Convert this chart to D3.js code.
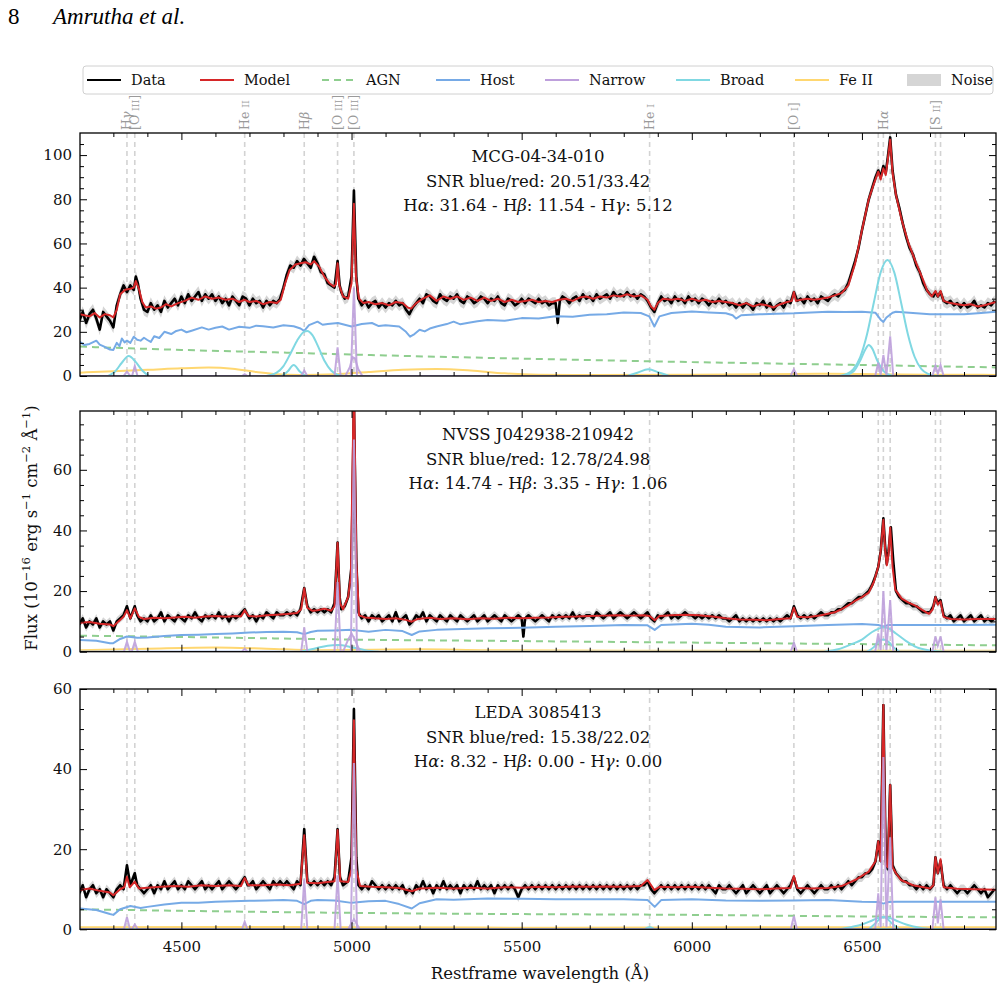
<!DOCTYPE html>
<html>
<head>
<meta charset="utf-8">
<script src="https://cdn.jsdelivr.net/npm/d3@7"></script>
<style>
  body { margin: 0; background: #ffffff; }
  svg { font-family: "DejaVu Serif", serif; }
</style>
</head>
<body>
<div class="svg-container"></div>
<script>
/* DATA (wavelength in Angstrom, flux in 1e-16 erg/s/cm2/A) */
var panelNames = ["MCG-04-34-010", "NVSS J042938-210942", "LEDA 3085413"];
var panelSnr = ["20.51/33.42", "12.78/24.98", "15.38/22.02"];
var balmerValues = [["31.64", "11.54", "5.12"], ["14.74", "3.35", "1.06"], ["8.32", "0.00", "0.00"]];

var lineWaves = [4340, 4363, 4686, 4861, 4959, 5007, 5876, 6300, 6548, 6563, 6583, 6716, 6731];
var labelWaves = [4340, 4363, 4686, 4861, 4959, 5007, 5876, 6300, 6563, 6716];
var labelNames = ["Hγ", "[O III]", "He II", "Hβ", "[O III]", "[O III]", "He I", "[O I]", "Hα", "[S II]"];

var xMajor = [4500, 5000, 5500, 6000, 6500];
var yMajor = [[0, 20, 40, 60, 80, 100], [0, 20, 40, 60], [0, 20, 40, 60]];

var legendNames = ["Data", "Model", "AGN", "Host", "Narrow", "Broad", "Fe II", "Noise"];

// Panel 1 : MCG-04-34-010
var data1 = [
[4200,25],[4210,29],[4220,24],[4230,28],[4240,30],[4250,26],[4260,21],[4270,29],[4280,27],[4290,25],
[4300,22],[4310,32],[4320,37],[4330,41],[4340,38],[4350,41],[4360,39],[4366,45],[4372,42],[4380,35],[4390,30],
[4400,29],[4410,33],[4420,30],[4430,32],[4440,29],[4450,34],[4460,31],[4470,33],[4480,35],[4490,32],
[4500,36],[4510,33],[4520,37],[4530,34],[4540,36],[4550,38],[4560,34],[4570,37],[4580,35],[4590,37],
[4600,34],[4610,36],[4620,33],[4630,35],[4640,32],[4650,36],[4660,34],[4670,32],[4680,36],[4690,35],
[4700,32],[4710,35],[4720,33],[4730,34],[4740,31],[4750,34],[4760,32],[4770,34],[4780,33],[4790,35],
[4800,40],[4810,46],[4820,50],[4830,49],[4840,52],[4850,50],[4860,53],[4870,51],[4880,49],[4890,54],
[4900,51],[4910,47],[4920,46],[4930,42],[4940,41],[4950,40],[4959,52],[4965,41],[4970,38],[4980,35],[4990,36],
[5000,45],[5007,84],[5014,45],[5020,35],[5030,32],[5040,34],[5050,31],[5060,33],[5070,34],[5080,31],[5090,33],
[5100,31],[5110,33],[5120,32],[5130,34],[5140,32],[5150,33],[5160,30],[5170,28],[5180,31],[5190,33],
[5200,35],[5210,33],[5220,37],[5230,36],[5240,34],[5250,33],[5260,37],[5270,35],[5280,34],[5290,36],
[5300,35],[5310,37],[5320,34],[5330,33],[5340,36],[5350,35],[5360,33],[5370,34],[5380,36],[5390,35],
[5400,33],[5410,35],[5420,34],[5430,36],[5440,33],[5450,32],[5460,35],[5470,34],[5480,32],[5490,33],
[5500,35],[5510,33],[5520,35],[5530,34],[5540,33],[5550,35],[5560,33],[5570,34],[5580,32],[5590,33],
[5600,33],[5606,24],[5612,34],[5620,36],[5630,35],[5640,33],[5650,35],[5660,36],[5670,34],[5680,37],[5690,35],
[5700,36],[5710,34],[5720,37],[5730,35],[5740,36],[5750,37],[5760,35],[5770,38],[5780,36],[5790,37],
[5800,36],[5810,38],[5820,36],[5830,37],[5840,35],[5850,37],[5860,36],[5870,34],[5880,31],[5890,29],
[5900,33],[5910,36],[5920,34],[5930,35],[5940,33],[5950,36],[5960,34],[5970,35],[5980,33],[5990,36],
[6000,34],[6010,35],[6020,33],[6030,35],[6040,34],[6050,32],[6060,34],[6070,33],[6080,35],[6090,33],
[6100,34],[6110,32],[6120,33],[6130,31],[6140,33],[6150,31],[6160,33],[6170,32],[6180,30],[6190,33],
[6200,32],[6210,34],[6220,31],[6230,33],[6240,30],[6250,32],[6260,33],[6270,31],[6280,34],[6290,33],
[6300,38],[6310,34],[6320,35],[6330,33],[6340,36],[6350,34],[6360,35],[6370,33],[6380,36],[6390,35],
[6400,34],[6410,36],[6420,37],[6430,36],[6440,38],[6450,39],[6460,42],[6470,47],[6480,52],[6490,58],
[6500,66],[6510,73],[6520,80],[6530,85],[6540,90],[6548,93],[6555,90],[6563,95],[6570,92],[6576,99],[6583,108],[6590,93],
[6600,82],[6610,76],[6620,69],[6630,63],[6640,58],[6650,55],[6660,50],[6670,47],[6680,42],[6690,39],
[6700,37],[6710,36],[6716,38],[6723,36],[6731,38],[6740,34],[6750,33],[6760,34],[6770,32],[6780,33],[6790,31],
[6800,33],[6810,31],[6820,32],[6830,34],[6840,31],[6850,32],[6860,31],[6870,33],[6880,32],[6890,34]
];
var model1 = [
[4200,28],[4215,27.5],[4230,27],[4245,28.5],[4260,26.5],[4275,28],[4290,27.5],[4300,26.5],[4310,30],[4320,37],
[4335,39],[4350,39.5],[4360,40],[4366,43],[4375,39.5],[4385,33.5],[4395,31],[4410,31.5],[4425,30.5],[4440,31],
[4455,32.5],[4470,31.5],[4490,33],[4510,34],[4530,35.5],[4550,34.5],[4570,36],[4590,35],[4610,35.5],[4630,34.5],
[4650,35],[4670,33.5],[4686,34.5],[4700,33.5],[4720,34],[4740,32.5],[4760,33.5],[4780,33],[4792,34.5],[4805,42],
[4818,48],[4835,50.5],[4850,51],[4865,51.5],[4880,50.5],[4890,52],[4905,49.5],[4920,45],[4935,42],[4948,40.5],
[4954,41.5],[4959,51],[4964,41],[4975,36],[4990,35],[5000,42],[5007,78],[5013,45],[5022,35],[5035,33],
[5050,33.5],[5070,32.5],[5090,33],[5110,32],[5130,33.5],[5150,33],[5165,31],[5175,30.5],[5190,33],[5210,35],
[5230,36.5],[5250,34],[5270,36],[5290,35],[5310,36],[5330,34.5],[5350,35.5],[5370,34],[5390,35.5],[5410,34],
[5430,35],[5450,33.5],[5470,34.5],[5490,33.5],[5510,34],[5530,34.5],[5550,33.5],[5570,34],[5590,33.5],[5610,34.5],
[5630,35],[5650,34],[5670,35.5],[5690,36],[5710,35],[5730,36],[5750,35.5],[5770,36.5],[5790,36],[5810,37],
[5830,36],[5850,36.5],[5870,34.5],[5880,31.5],[5890,30],[5900,33],[5915,35],[5940,34.5],[5960,35],[5980,34],
[6000,35],[6020,34],[6040,34.5],[6060,33.5],[6080,34],[6100,33.5],[6120,33],[6140,32],[6160,33],[6180,31.5],
[6200,32.5],[6220,32],[6240,31],[6260,32.5],[6280,33.5],[6294,34],[6300,38],[6306,34],[6320,34.5],[6340,35],
[6360,34.5],[6380,35],[6400,35.5],[6420,36.5],[6440,37.5],[6460,41],[6480,51],[6500,66],[6520,80],[6535,87],
[6548,92.5],[6555,89],[6563,94],[6570,91],[6576,98],[6583,107],[6590,92],[6600,82],[6617,70.5],[6637,60],
[6657,52],[6677,44.5],[6692,38.5],[6705,36],[6716,38.5],[6723,36],[6731,38.5],[6740,34],[6760,33],[6780,32.5],
[6800,32],[6820,32.5],[6840,31.5],[6860,32],[6894,33.5]
];
var host1 = [
[4200,15.6],[4215,14],[4230,14.5],[4250,16],[4260,14.2],[4270,13.5],[4290,12],[4300,11.8],[4310,15],[4318,13.5],
[4325,17],[4333,15.2],[4340,16],[4350,15],[4360,17.8],[4370,16.4],[4380,16],[4390,17.3],[4400,16.3],[4410,15.4],
[4420,18],[4435,17.2],[4450,20],[4470,19],[4485,20.4],[4500,21],[4515,19.8],[4530,20.5],[4560,22],[4580,21],
[4600,21.8],[4620,22.4],[4640,21],[4670,22.3],[4700,21.8],[4720,22.8],[4740,22.5],[4770,22],[4800,23],[4830,22.5],
[4850,21.5],[4861,20.4],[4875,23],[4900,24.6],[4915,23.2],[4930,23.5],[4960,24],[5000,22.4],[5030,23.5],[5060,24],
[5080,22.6],[5100,23],[5140,22.4],[5160,20],[5172,17.8],[5185,19],[5200,20.9],[5215,20.2],[5230,21.5],[5250,22.4],
[5280,23.5],[5300,24.6],[5320,23.4],[5340,24],[5370,24.8],[5400,25.4],[5450,25],[5500,26.2],[5550,26],[5600,27],
[5650,26.8],[5700,27.7],[5750,28],[5800,28.7],[5850,28.5],[5875,27],[5890,22.4],[5905,27],[5940,28.5],[6000,29.2],
[6050,28.8],[6100,28.4],[6120,27.5],[6130,26],[6145,27.5],[6200,27.9],[6250,28.2],[6300,28.4],[6350,28.8],[6400,29.1],
[6450,29],[6500,29.1],[6540,28.6],[6555,25.5],[6563,24.5],[6572,26.5],[6590,28.6],[6600,29.1],[6650,28.5],[6700,27.9],
[6750,28],[6800,27.9],[6850,28.5],[6894,29.1]
];
var agn1 = [[4202,13.3],[4500,11.8],[4800,10.6],[5100,9.3],[5400,8.2],[5700,7.2],[6000,6.3],[6300,5.5],[6600,4.7],[6894,3.9]];
var feii1 = [[4202,1.5],[4300,2.2],[4400,2.8],[4500,3.5],[4580,3.8],[4650,3.3],[4720,1.8],[4780,0.8],[4850,0.5],[4950,0.8],
[5050,1.8],[5150,2.8],[5250,3.2],[5350,2.5],[5450,1.2],[5550,0.6],[5700,0.4],[6000,0.6],[6200,0.8],[6400,1.0],
[6550,0.8],[6700,0.6],[6894,0.5]];
var narrow1 = [
[4202,0],[4330,0],[4340,2],[4350,0],[4355,0],[4363,4.5],[4371,0],[4678,0],[4686,0.8],[4694,0],
[4852,0],[4861,2.5],[4870,0],[4950,0],[4959,13],[4968,0],[4998,0],[5007,40],[5016,0],[6290,0],
[6300,3],[6310,0],[6539,0],[6548,6],[6555,0.5],[6563,9.5],[6572,0.5],[6583,18],[6592,0],[6707,0],
[6716,4.7],[6723,1],[6731,5],[6740,0],[6894,0]
];
var outflow1 = [[4982,0],[4995,4],[5003,8.5],[5010,8],[5020,3],[5032,0]];
var broad1 = [
[[4202,0],[6894,0]],
[[4285,0],[4305,2],[4325,6],[4345,9],[4365,6.5],[4385,2.5],[4405,0]],
[[4750,0],[4780,1.5],[4800,4.5],[4820,10],[4840,16],[4860,20],[4870,20.4],[4885,18.5],[4900,14],[4920,7],[4940,2.5],[4960,0.5],[4980,0]],
[[4795,0],[4812,2],[4830,5],[4848,2],[4865,0]],
[[5810,0],[5840,1.5],[5872,3],[5905,1.5],[5935,0]],
[[6435,0],[6455,0.9],[6475,3.1],[6495,8.6],[6515,18.9],[6535,33.3],[6555,46.9],[6575,52.5],[6595,46.9],[6615,33.3],[6635,18.9],[6655,8.6],[6675,3.1],[6695,0.9],[6715,0]],
[[6445,0],[6475,2],[6495,7],[6510,12],[6520,14],[6530,12.5],[6545,7],[6565,2],[6590,0]]
];

// Panel 2 : NVSS J042938-210942
var data2 = [
[4200,9],[4210,11],[4220,8],[4230,10],[4240,9],[4250,11],[4260,8],[4270,10],[4280,9],[4290,10],
[4300,7],[4310,10],[4320,11],[4330,12],[4340,15],[4350,11],[4363,15],[4370,12],[4380,10],[4390,11],
[4400,10],[4410,12],[4420,10],[4430,11],[4440,13],[4450,10],[4460,12],[4470,11],[4480,10],[4490,12],
[4500,11],[4510,10],[4520,12],[4530,11],[4540,13],[4550,11],[4560,10],[4570,12],[4580,11],[4590,12],
[4600,11],[4610,13],[4620,11],[4630,12],[4640,10],[4650,12],[4660,11],[4670,12],[4686,14],[4695,12],
[4700,11],[4710,12],[4720,10],[4730,12],[4740,11],[4750,13],[4760,12],[4770,11],[4780,13],[4790,12],
[4800,12],[4810,13],[4820,12],[4830,13],[4840,12],[4850,14],[4861,21],[4870,15],[4880,13],[4890,14],
[4900,13],[4910,14],[4920,13],[4930,14],[4940,13],[4950,16],[4959,36],[4965,18],[4970,14],[4980,15],[4990,18],
[5000,28],[5007,82],[5014,30],[5020,13],[5030,11],[5040,12],[5050,10],[5060,12],[5070,11],[5080,12],[5090,10],
[5100,11],[5110,12],[5120,10],[5130,13],[5140,10],[5150,11],[5160,12],[5170,9],[5180,10],[5190,12],
[5200,11],[5210,13],[5220,10],[5230,12],[5240,11],[5250,10],[5260,12],[5270,11],[5280,10],[5290,12],
[5300,11],[5310,10],[5320,12],[5330,11],[5340,10],[5350,11],[5360,12],[5370,10],[5380,11],[5390,12],
[5400,10],[5410,11],[5420,12],[5430,11],[5440,10],[5450,12],[5460,11],[5470,10],[5480,11],[5490,12],
[5500,11],[5505,5],[5510,11],[5520,12],[5530,11],[5540,10],[5550,11],[5560,12],[5570,11],[5580,10],[5590,12],
[5600,11],[5610,12],[5620,11],[5630,12],[5640,11],[5650,13],[5660,11],[5670,12],[5680,11],[5690,12],
[5700,12],[5710,11],[5720,13],[5730,12],[5740,11],[5750,12],[5760,13],[5770,11],[5780,12],[5790,13],
[5800,12],[5810,11],[5820,12],[5830,13],[5840,12],[5850,11],[5860,12],[5870,13],[5880,11],[5890,10],
[5900,12],[5910,11],[5920,12],[5930,13],[5940,11],[5950,12],[5960,11],[5970,12],[5980,13],[5990,12],
[6000,12],[6010,11],[6020,12],[6030,11],[6040,12],[6050,11],[6060,12],[6070,11],[6080,12],[6090,11],
[6100,11],[6110,10],[6120,11],[6130,12],[6140,10],[6150,11],[6160,10],[6170,11],[6180,10],[6190,11],
[6200,10],[6210,11],[6220,10],[6230,11],[6240,10],[6250,11],[6260,10],[6270,11],[6280,12],[6290,11],
[6300,15],[6310,12],[6320,11],[6330,12],[6340,11],[6350,12],[6360,11],[6370,12],[6380,13],[6390,12],
[6400,12],[6410,13],[6420,13],[6430,14],[6440,14],[6450,15],[6460,16],[6470,16],[6480,17],[6490,18],
[6500,18],[6510,19],[6520,20],[6530,22],[6540,25],[6548,28],[6555,33],[6563,44],[6568,35],[6573,29],[6578,33],[6585,41],[6592,30],
[6600,20],[6610,18],[6620,17],[6630,16],[6640,16],[6650,15],[6660,15],[6670,14],[6680,13],[6690,13],
[6700,13],[6710,15],[6716,18],[6723,16],[6731,17],[6740,12],[6750,11],[6760,12],[6770,10],[6780,11],[6790,12],
[6800,10],[6810,11],[6820,12],[6830,10],[6840,11],[6850,12],[6860,10],[6870,11],[6880,10],[6890,11]
];
var model2 = [
[4200,9.5],[4230,9.8],[4260,9.2],[4290,9],[4300,8.4],[4315,10],[4330,11.5],[4340,13.7],[4350,11],[4363,14.3],
[4375,11.5],[4390,10.8],[4420,11.2],[4450,11],[4480,11.3],[4510,11.5],[4540,11.2],[4570,11.6],[4600,11.8],[4630,11.5],
[4660,11.8],[4675,11.6],[4686,13.7],[4697,11.8],[4720,11.6],[4750,12],[4780,12.2],[4810,12.4],[4840,12.8],[4852,14],
[4861,20.9],[4870,14.5],[4885,13.5],[4900,13.7],[4920,14.2],[4940,13.5],[4950,15],[4959,35.9],[4966,16],[4975,14],
[4990,18],[4998,25],[5007,90],[5014,30],[5022,12],[5040,11.3],[5070,11],[5100,10.8],[5130,11],[5160,10.5],
[5177,9.9],[5195,10.8],[5230,11.2],[5260,10.8],[5300,11],[5340,10.7],[5380,11],[5420,10.9],[5460,11.2],[5500,11],
[5540,11.2],[5580,11.3],[5620,11.5],[5660,11.6],[5700,11.8],[5740,11.9],[5780,12],[5820,11.9],[5860,12],[5876,11.8],
[5891,10.4],[5905,11.8],[5940,12],[5980,12.2],[6020,12],[6060,11.6],[6100,11],[6140,10.6],[6180,10.5],[6220,10.4],
[6260,10.8],[6290,11],[6300,14.5],[6310,11.5],[6340,11.4],[6380,12],[6420,13],[6440,14],[6460,15.3],[6480,16.8],
[6500,18],[6520,19.5],[6535,23],[6548,28],[6555,33],[6563,43.5],[6568,34],[6573,28.5],[6578,32],[6583,41],
[6590,28],[6598,20.5],[6617,17.5],[6637,16.2],[6657,15.2],[6677,13.8],[6697,12.5],[6708,14],[6716,18],[6723,15.5],
[6731,16.6],[6740,11.5],[6760,10.8],[6800,10.6],[6840,10.8],[6894,10.8]
];
var host2 = [
[4200,3.9],[4250,3.6],[4290,2.8],[4300,2.8],[4320,4.2],[4340,5],[4370,4.6],[4400,4.7],[4450,5.2],[4500,5.5],
[4550,5.6],[4600,5.8],[4650,6],[4700,6.3],[4750,6.5],[4800,6.6],[4840,6.4],[4861,5.8],[4880,6.5],[4900,6.9],
[4950,7],[5000,7.2],[5050,6.6],[5100,7.2],[5150,6.8],[5177,5.5],[5200,6.7],[5250,7.2],[5300,7.4],[5400,7.7],
[5500,7.9],[5600,8.2],[5700,8.5],[5800,8.8],[5870,8.7],[5891,7.2],[5910,8.8],[6000,9.2],[6050,8.9],[6100,8.2],
[6200,8],[6300,8.4],[6400,8.8],[6500,9.1],[6548,8.8],[6563,8.3],[6578,8.8],[6600,8.8],[6700,8.8],[6800,8.8],[6894,8.9]
];
var agn2 = [[4202,5.3],[4600,4.7],[5000,4.0],[5500,3.5],[6000,3.0],[6500,2.5],[6894,2.1]];
var feii2 = [[4202,0.5],[4400,1],[4600,1.4],[4750,1],[4900,0.5],[5200,0.8],[5400,0.5],[6000,0.3],[6894,0.3]];
var narrow2 = [
[4202,0],[4331,0],[4340,3.3],[4349,0],[4354,0],[4363,3.3],[4372,0],[4678,0],[4686,1],[4694,0],
[4852,0],[4861,8],[4870,0],[4950,0],[4959,23],[4968,0],[4998,0],[5007,70],[5016,0],[6291,0],
[6300,2.9],[6309,0],[6539,0],[6548,6],[6555,0.5],[6563,20],[6572,0.5],[6583,17],[6592,0],[6707,0],
[6716,5],[6723,2],[6731,5],[6740,0],[6894,0]
];
var outflow2 = [[4975,0],[4990,4],[5000,6],[5010,4],[5025,0]];
var broad2 = [
[[4202,0],[6894,0]],
[[4850,0],[4890,1],[4930,2],[4960,2.2],[5000,1.5],[5040,0.5],[5080,0]],
[[6390,0],[6430,0.8],[6470,2.5],[6500,4],[6530,6.5],[6550,7.6],[6563,8.1],[6580,7.6],[6600,6],[6630,3.5],[6660,1.5],[6700,0.4],[6740,0]],
[[6515,0],[6535,1.5],[6550,3.5],[6563,4],[6578,3.3],[6595,1.2],[6610,0]]
];

// Panel 3 : LEDA 3085413
var data3 = [
[4200,9],[4210,11],[4220,8],[4230,10],[4240,11],[4250,9],[4260,10],[4270,8],[4280,10],[4290,9],
[4300,8],[4310,10],[4320,11],[4330,10],[4340,16],[4350,11],[4363,14],[4370,11],[4380,10],[4390,9],
[4400,10],[4410,11],[4420,9],[4430,11],[4440,10],[4450,12],[4460,10],[4470,11],[4480,12],[4490,10],
[4500,11],[4510,10],[4520,12],[4530,11],[4540,10],[4550,11],[4560,12],[4570,10],[4580,11],[4590,10],
[4600,11],[4610,12],[4620,10],[4630,11],[4640,12],[4650,11],[4660,10],[4670,11],[4686,13],[4695,11],
[4700,11],[4710,12],[4720,10],[4730,11],[4740,12],[4750,11],[4760,10],[4770,12],[4780,11],[4790,12],
[4800,11],[4810,12],[4820,11],[4830,10],[4840,12],[4850,11],[4861,25],[4870,12],[4880,11],[4890,12],
[4900,11],[4910,12],[4920,11],[4930,12],[4940,11],[4950,13],[4959,25],[4966,13],[4975,11],[4990,12],
[5000,18],[5007,55],[5014,18],[5020,11],[5030,10],[5040,11],[5050,10],[5060,12],[5070,11],[5080,10],[5090,11],
[5100,10],[5110,11],[5120,10],[5130,11],[5140,10],[5150,11],[5160,9],[5170,10],[5180,9],[5190,11],
[5200,10],[5210,12],[5220,10],[5230,11],[5240,9],[5250,11],[5260,10],[5270,12],[5280,10],[5290,11],
[5300,10],[5310,11],[5320,9],[5330,11],[5340,10],[5350,11],[5360,10],[5370,12],[5380,10],[5390,11],
[5400,10],[5410,11],[5420,9],[5430,11],[5440,10],[5450,11],[5460,10],[5470,11],[5480,10],[5490,8],
[5500,10],[5510,11],[5520,10],[5530,11],[5540,10],[5550,11],[5560,10],[5570,11],[5580,10],[5590,11],
[5600,10],[5610,11],[5620,10],[5630,11],[5640,10],[5650,11],[5660,10],[5670,11],[5680,10],[5690,11],
[5700,10],[5710,11],[5720,10],[5730,11],[5740,10],[5750,11],[5760,10],[5770,11],[5780,10],[5790,11],
[5800,10],[5810,11],[5820,10],[5830,11],[5840,10],[5850,11],[5860,11],[5870,12],[5880,10],[5890,9],
[5900,10],[5910,11],[5920,10],[5930,11],[5940,10],[5950,11],[5960,10],[5970,11],[5980,10],[5990,11],
[6000,10],[6010,11],[6020,10],[6030,11],[6040,10],[6050,11],[6060,10],[6070,9],[6080,11],[6090,10],
[6100,10],[6110,11],[6120,10],[6130,9],[6140,10],[6150,11],[6160,9],[6170,10],[6180,11],[6190,10],
[6200,9],[6210,10],[6220,11],[6230,9],[6240,10],[6250,11],[6260,10],[6270,9],[6280,10],[6290,11],
[6300,13],[6310,10],[6320,9],[6330,10],[6340,11],[6350,10],[6360,9],[6370,10],[6380,11],[6390,10],
[6400,10],[6410,11],[6420,10],[6430,11],[6440,10],[6450,11],[6460,12],[6470,11],[6480,12],[6490,13],
[6500,13],[6510,14],[6520,14],[6530,15],[6540,17],[6548,22],[6555,17],[6563,56],[6570,17],[6576,15],[6583,36],[6590,16],
[6600,14],[6610,13],[6620,12],[6630,12],[6640,11],[6650,11],[6660,10],[6670,11],[6680,10],[6690,11],
[6700,10],[6710,11],[6716,18],[6723,14],[6731,17],[6740,11],[6750,10],[6760,11],[6770,10],[6780,9],[6790,10],
[6800,10],[6810,9],[6820,10],[6830,11],[6840,10],[6850,9],[6860,10],[6870,8],[6880,9],[6890,10]
];
var model3 = [
[4200,9.8],[4230,10.2],[4260,9.6],[4290,9.2],[4300,8.5],[4320,10],[4332,10.5],[4340,13.1],[4348,10.5],[4363,11.9],
[4375,10.2],[4400,10.4],[4440,10.6],[4480,10.8],[4520,10.6],[4560,11],[4600,10.8],[4640,11],[4675,10.8],[4686,12.8],
[4697,11],[4740,11],[4780,11.2],[4820,11],[4850,11.4],[4861,23.5],[4870,11.6],[4900,11.5],[4930,11.8],[4950,12],
[4959,24.8],[4967,12],[4990,11.8],[5000,15],[5007,52.2],[5014,15],[5025,10.8],[5060,10.6],[5100,10.5],[5140,10.3],
[5177,9.5],[5200,10.2],[5250,10.4],[5300,10.2],[5350,10.4],[5400,10.2],[5450,10.5],[5500,10.4],[5550,10.6],[5600,10.5],
[5650,10.7],[5700,10.6],[5750,10.7],[5800,10.6],[5850,10.8],[5870,12.3],[5890,9.8],[5905,10.6],[5950,10.5],[6000,10.6],
[6050,10.4],[6100,10.2],[6150,10.1],[6200,10],[6250,10.2],[6290,10.3],[6300,13.3],[6310,10.3],[6350,10.2],[6400,10.3],
[6440,10.8],[6480,12.3],[6520,14.4],[6540,17],[6548,22],[6555,17],[6563,56],[6570,16],[6576,15.5],[6583,36],
[6590,15.5],[6600,14],[6615,12.3],[6650,11],[6700,10.2],[6710,11],[6716,18],[6723,14],[6731,17.5],[6740,10.5],
[6780,10.1],[6830,10],[6894,9.9]
];
var host3 = [
[4200,5.2],[4250,4.8],[4290,3.8],[4300,3.6],[4320,5],[4350,5.8],[4380,5.3],[4400,5.6],[4450,6.2],[4500,6.6],
[4550,6.6],[4600,6.9],[4650,7],[4700,7.1],[4750,7.2],[4800,7.3],[4840,7.1],[4861,6.3],[4880,7.1],[4900,7.3],
[4950,7.2],[5000,6.6],[5050,7],[5100,7.1],[5140,6.3],[5177,5.2],[5200,6.5],[5250,7.5],[5300,7.4],[5400,7.7],
[5500,7.6],[5600,7.5],[5700,7.5],[5800,7.5],[5870,7.3],[5891,5.6],[5910,7.3],[6000,7.5],[6100,7.2],[6200,7.1],
[6300,7.2],[6400,7.3],[6500,6.9],[6548,6.8],[6563,6.4],[6578,6.8],[6600,6.9],[6700,6.9],[6800,6.9],[6894,6.9]
];
var agn3 = [[4202,5.0],[4600,4.5],[5000,4.1],[5500,3.8],[6000,3.6],[6500,3.2],[6894,3.0]];
var feii3 = [[4202,0.5],[4600,0.6],[5000,0.5],[5600,0.4],[6200,0.5],[6894,0.5]];
var narrow3 = [
[4202,0],[4331,0],[4340,3],[4349,0],[4354,0],[4363,1.2],[4372,0],[4678,0],[4686,1.9],[4694,0],
[4852,0],[4861,12.5],[4870,0],[4950,0],[4959,13.5],[4968,0],[4998,0],[5007,41.5],[5016,0],[6291,0],
[6300,3.3],[6309,0],[6539,0],[6548,9],[6555,0.5],[6563,43],[6572,0.5],[6583,23],[6592,0],[6707,0],
[6716,8],[6723,1.5],[6731,7.5],[6740,0],[6894,0]
];
var outflow3 = [[4990,0],[5000,1.5],[5007,2.5],[5014,1.5],[5024,0]];
var broad3 = [
[[4202,0],[6894,0]],
[[5860,0],[5876,0.6],[5892,0]],
[[6430,0],[6470,0.6],[6500,1.2],[6530,2.2],[6550,2.9],[6563,3.1],[6580,2.9],[6600,2.2],[6630,1.2],[6670,0.4],[6710,0]],
[[6520,0],[6540,1.5],[6555,2.8],[6563,3],[6572,2.8],[6590,1.3],[6610,0]]
];

/* PREPARATION */
var panels = [
  {data: data1, model: model1, host: host1, agn: agn1, feii: feii1, narrow: [narrow1, outflow1], broad: broad1},
  {data: data2, model: model2, host: host2, agn: agn2, feii: feii2, narrow: [narrow2, outflow2], broad: broad2},
  {data: data3, model: model3, host: host3, agn: agn3, feii: feii3, narrow: [narrow3, outflow3], broad: broad3}
];

var colors = {data: "#000000", model: "#d62728", agn: "#8fce8f", host: "#76aae6",
              narrow: "#bea0dc", broad: "#80d8e2", feii: "#ffd770", noise: "#d5d5d5"};

var plotLeft = 80, plotRight = 996;
var panelTop = [133, 411, 689];
var panelBottom = [376, 651.7, 929.3];
var yMax = [110, 79.4, 60];
var noiseLevel = [2.6, 1.4, 1.2];

// Append SVG
var svg = d3.select(".svg-container").append("svg")
  .attr("width", 1003)
  .attr("height", 993);

// Scale preparation
var xScale = d3.scaleLinear().domain([4202, 6894]).range([plotLeft, plotRight]);
var xMinor = d3.range(4300, 6894, 100).filter(function(v) { return v % 500 !== 0; });

// Header
svg.append("text").attr("x", 8).attr("y", 24)
  .style("font-family", "Liberation Serif").style("font-size", "23px").text("8");
svg.append("text").attr("x", 53).attr("y", 24)
  .style("font-family", "Liberation Serif").style("font-size", "23px")
  .style("font-style", "italic").text("Amrutha et al.");

// writes a label with italic greek letters and small roman numerals
function richText(sel, str, smallSize) {
  var parts = str.match(/[αβγ]|I+(?=\]?$)|[^αβγ]+?(?=[αβγ]|I+\]?$|$)|\]/g);
  parts.forEach(function(p) {
    var t = sel.append("tspan").text(p);
    if (/[αβγ]/.test(p)) t.style("font-style", "italic");
    else if (/^I+$/.test(p) && smallSize) t.style("font-size", smallSize);
  });
}

function drawPanel(i) {
  var p = panels[i];
  var top = panelTop[i], bottom = panelBottom[i];
  var yScale = d3.scaleLinear().domain([0, yMax[i]]).range([bottom, top]);
  var yMinor = d3.range(5, yMax[i], 5).filter(function(v) { return v % 20 !== 0; });

  var line = d3.line()
    .x(function(d) { return xScale(d[0]); })
    .y(function(d) { return yScale(d[1]); });
  var smooth = d3.line().curve(d3.curveMonotoneX)
    .x(function(d) { return xScale(d[0]); })
    .y(function(d) { return yScale(d[1]); });
  var band = d3.area()
    .x(function(d) { return xScale(d[0]); })
    .y0(function(d) { return yScale(d[1] - noiseLevel[i]); })
    .y1(function(d) { return yScale(d[1] + noiseLevel[i]); });

  svg.append("clipPath").attr("id", "clip" + i).append("rect")
    .attr("x", plotLeft).attr("y", top)
    .attr("width", plotRight - plotLeft).attr("height", bottom - top);

  var g = svg.append("g").attr("clip-path", "url(#clip" + i + ")");

  // line markers
  g.selectAll(".marker").data(lineWaves).enter().append("line")
    .attr("x1", function(d) { return xScale(d); })
    .attr("x2", function(d) { return xScale(d); })
    .attr("y1", top).attr("y2", bottom)
    .style("stroke", "#d3d3d3").style("stroke-width", 1.6)
    .style("stroke-dasharray", "5,4");

  // noise + data + model
  g.append("path").datum(p.data).attr("d", band)
    .style("fill", colors.noise).style("stroke", "none");
  g.append("path").datum(p.data).attr("d", line)
    .style("fill", "none").style("stroke", colors.data).style("stroke-width", 2.6)
    .style("stroke-linejoin", "round");
  g.append("path").datum(p.model).attr("d", line)
    .style("fill", "none").style("stroke", colors.model).style("stroke-width", 2)
    .style("stroke-linejoin", "round");

  // components
  g.append("path").datum(p.agn).attr("d", smooth)
    .style("fill", "none").style("stroke", colors.agn).style("stroke-width", 2)
    .style("stroke-dasharray", "7,5");
  g.append("path").datum(p.host).attr("d", line)
    .style("fill", "none").style("stroke", colors.host).style("stroke-width", 2)
    .style("stroke-linejoin", "round");
  g.append("path").datum(p.feii).attr("d", smooth)
    .style("fill", "none").style("stroke", colors.feii).style("stroke-width", 2);
  g.selectAll(".broad").data(p.broad).enter().append("path")
    .attr("d", smooth)
    .style("fill", "none").style("stroke", colors.broad).style("stroke-width", 2);
  g.selectAll(".narrow").data(p.narrow).enter().append("path")
    .attr("d", line)
    .style("fill", "none").style("stroke", colors.narrow).style("stroke-width", 2)
    .style("opacity", 0.9);

  // Axes drawing
  function styleAxis(a) {
    a.select(".domain").remove();
    a.selectAll("line").style("stroke", "#000").style("stroke-width", 1);
    a.selectAll("text").style("font-family", "DejaVu Serif").style("font-size", "15px").style("fill", "#111");
  }
  svg.append("g").attr("transform", "translate(0," + bottom + ")")
    .call(d3.axisBottom(xScale).tickValues(xMajor).tickSize(-7).tickPadding(12)
      .tickFormat(i === 2 ? d3.format("d") : function() { return ""; }))
    .call(styleAxis);
  svg.append("g").attr("transform", "translate(0," + bottom + ")")
    .call(d3.axisBottom(xScale).tickValues(xMinor).tickSize(-4).tickFormat(""))
    .call(styleAxis);
  svg.append("g").attr("transform", "translate(0," + top + ")")
    .call(d3.axisTop(xScale).tickValues(xMajor).tickSize(-7).tickFormat(""))
    .call(styleAxis);
  svg.append("g").attr("transform", "translate(0," + top + ")")
    .call(d3.axisTop(xScale).tickValues(xMinor).tickSize(-4).tickFormat(""))
    .call(styleAxis);
  svg.append("g").attr("transform", "translate(" + plotLeft + ",0)")
    .call(d3.axisLeft(yScale).tickValues(yMajor[i]).tickSize(-7).tickPadding(8))
    .call(styleAxis);
  svg.append("g").attr("transform", "translate(" + plotLeft + ",0)")
    .call(d3.axisLeft(yScale).tickValues(yMinor).tickSize(-4).tickFormat(""))
    .call(styleAxis);
  svg.append("g").attr("transform", "translate(" + plotRight + ",0)")
    .call(d3.axisRight(yScale).tickValues(yMajor[i]).tickSize(-7).tickFormat(""))
    .call(styleAxis);
  svg.append("g").attr("transform", "translate(" + plotRight + ",0)")
    .call(d3.axisRight(yScale).tickValues(yMinor).tickSize(-4).tickFormat(""))
    .call(styleAxis);

  // frame
  svg.append("rect")
    .attr("x", plotLeft).attr("y", top)
    .attr("width", plotRight - plotLeft).attr("height", bottom - top)
    .style("fill", "none").style("stroke", "#000").style("stroke-width", 1.3);

  // annotation
  var cx = 538;
  svg.append("text").attr("x", cx).attr("y", top + 29)
    .attr("text-anchor", "middle").style("font-size", "16.5px").style("fill", "#111")
    .text(panelNames[i]);
  svg.append("text").attr("x", cx).attr("y", top + 54)
    .attr("text-anchor", "middle").style("font-size", "16.5px").style("fill", "#111")
    .text("SNR blue/red: " + panelSnr[i]);
  var bv = balmerValues[i];
  var t3 = svg.append("text").attr("x", cx).attr("y", top + 78)
    .attr("text-anchor", "middle").style("font-size", "16.5px").style("fill", "#111");
  richText(t3, "Hα: " + bv[0] + " - Hβ: " + bv[1] + " - Hγ: " + bv[2]);
}

[0, 1, 2].forEach(drawPanel);

// line labels above the first panel
labelWaves.forEach(function(w, k) {
  var t = svg.append("text")
    .attr("transform", "translate(" + (xScale(w) + 4.5) + "," + (panelTop[0] - 3) + ") rotate(-90)")
    .style("font-size", "12.5px").style("fill", "#9a9a9a");
  richText(t, labelNames[k], "9.5px");
});

// axis titles
svg.append("text")
  .attr("x", 540).attr("y", 979)
  .attr("text-anchor", "middle").style("font-size", "16.5px").style("fill", "#111")
  .text("Restframe wavelength (Å)");

var yl = svg.append("text")
  .attr("transform", "translate(37,528) rotate(-90)")
  .attr("text-anchor", "middle").style("font-size", "16.5px").style("fill", "#111");
yl.append("tspan").text("Flux (10");
yl.append("tspan").attr("dy", -7).style("font-size", "11.5px").text("−16");
yl.append("tspan").attr("dy", 7).text(" erg s");
yl.append("tspan").attr("dy", -7).style("font-size", "11.5px").text("−1");
yl.append("tspan").attr("dy", 7).text(" cm");
yl.append("tspan").attr("dy", -7).style("font-size", "11.5px").text("−2");
yl.append("tspan").attr("dy", 7).text(" Å");
yl.append("tspan").attr("dy", -7).style("font-size", "11.5px").text("−1");
yl.append("tspan").attr("dy", 7).text(")");

// Legend
var legendX = [87, 200, 322, 436, 545, 676, 795, 907];
var legendKeys = ["data", "model", "agn", "host", "narrow", "broad", "feii", "noise"];
var legend = svg.append("g");
legend.append("rect")
  .attr("x", 83).attr("y", 66).attr("width", 910).attr("height", 28).attr("rx", 3)
  .style("fill", "#fff").style("stroke", "#d0d0d0").style("stroke-width", 1);
legendNames.forEach(function(name, k) {
  var x0 = legendX[k], key = legendKeys[k];
  if (key === "noise") {
    legend.append("rect").attr("x", x0).attr("y", 74).attr("width", 34).attr("height", 12)
      .style("fill", colors.noise);
  } else {
    legend.append("line").attr("x1", x0).attr("x2", x0 + 34).attr("y1", 80).attr("y2", 80)
      .style("stroke", colors[key]).style("stroke-width", 2)
      .style("stroke-dasharray", key === "agn" ? "7,5" : null);
  }
  legend.append("text").attr("x", x0 + 44).attr("y", 85)
    .style("font-size", "14.5px").style("fill", "#111").text(name);
});
</script>
</body>
</html>
